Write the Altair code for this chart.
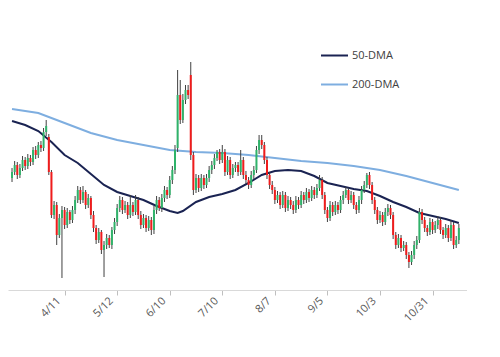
import altair as alt
import pandas as pd

# trading-day index of each candle
days = list(range(171))

opens = [31.2,31.8,32.5,31.5,32.2,33.0,32.4,33.2,32.8,34.0,33.5,34.5,34.2,35.8,35.3,31.8,27.5,28.5,25.5,27.2,
         28.0,26.5,27.8,27.0,28.0,29.0,30.0,29.0,29.8,28.5,29.2,27.5,26.2,25.0,25.8,24.0,24.5,25.2,24.5,26.0,
         26.8,28.2,29.0,28.0,28.5,27.5,28.5,27.8,29.0,27.5,26.5,27.2,26.2,27.0,26.0,28.0,29.0,28.2,29.2,30.0,
         29.5,31.0,32.0,34.2,39.5,37.0,39.0,40.0,41.5,33.5,30.0,31.2,30.2,31.2,30.5,31.2,32.0,32.5,33.2,33.8,
         33.0,33.8,31.8,33.0,31.5,32.2,32.5,31.8,33.0,31.5,31.0,30.5,31.5,32.0,34.0,35.0,34.5,33.0,31.5,30.5,
         30.0,29.0,29.5,28.5,29.5,28.2,29.0,28.5,28.0,29.0,28.5,29.5,29.0,29.8,29.2,30.0,29.5,30.2,31.0,29.5,
         28.0,27.2,28.5,27.8,28.5,28.0,29.0,29.5,30.0,29.0,29.5,28.5,28.0,29.0,30.0,30.5,31.5,30.5,29.0,28.0,
         27.0,27.5,26.8,27.8,28.2,27.5,25.5,24.5,25.2,24.2,24.5,23.5,22.8,23.5,24.5,25.0,27.8,27.0,26.2,25.8,
         26.8,26.0,26.5,27.0,26.0,25.5,26.2,25.2,26.5,24.5,25.0]
highs = [32.2,32.9,32.8,32.6,33.4,33.3,33.6,33.5,34.3,34.4,34.8,34.9,36.2,37.0,35.6,32.0,28.9,28.8,27.6,28.4,
         28.3,28.2,28.0,28.4,29.4,30.4,30.3,30.4,30.0,29.6,29.4,27.9,26.5,26.2,26.0,24.9,25.6,25.5,26.3,27.2,
         28.6,29.4,29.3,28.9,28.8,29.5,28.8,29.5,29.3,27.9,27.6,27.5,27.4,27.3,28.4,29.4,29.3,29.6,30.4,30.3,
         31.4,32.4,34.5,42.0,41.0,39.6,40.5,40.5,42.8,33.8,31.6,31.5,31.6,31.5,31.6,32.4,32.9,33.6,34.0,34.1,
         34.5,34.1,33.4,33.3,32.6,32.8,32.8,34.0,33.3,31.9,31.3,31.9,32.4,34.4,35.5,35.5,34.8,33.3,31.8,30.9,
         30.3,29.9,29.8,29.9,29.8,29.4,29.3,28.9,29.4,29.3,29.9,29.8,30.2,30.1,30.4,30.3,30.6,31.5,31.3,29.8,
         28.3,28.9,28.8,28.9,28.8,29.4,29.9,30.3,30.2,29.9,29.8,28.8,29.4,30.4,30.9,31.7,31.8,30.8,29.3,28.3,
         27.9,27.8,28.2,28.6,28.5,27.8,25.8,25.6,25.5,24.9,24.8,23.8,23.9,24.9,25.4,28.2,28.1,27.3,26.5,27.2,
         27.1,26.9,27.4,27.3,26.3,26.6,26.5,27.0,26.8,25.4,26.6]
lows = [30.8,31.5,31.1,31.2,31.9,32.0,32.1,32.4,32.5,33.1,33.2,33.8,33.9,35.4,31.5,27.2,27.1,24.5,25.2,21.2,
        26.1,26.2,26.6,26.7,27.6,28.7,28.6,28.7,28.1,28.2,27.1,25.8,24.6,24.7,23.6,21.3,24.1,24.2,24.1,25.6,
        26.4,27.8,27.6,27.7,27.1,27.2,27.4,27.5,27.1,26.1,26.2,25.8,25.9,25.5,25.6,27.6,27.9,27.8,28.8,29.1,
        29.2,30.6,31.6,33.8,36.6,36.7,38.6,39.1,33.0,29.5,29.7,29.8,29.9,30.1,30.2,30.8,31.6,32.1,32.9,32.6,
        32.7,31.4,31.5,31.1,31.2,31.8,31.4,31.5,31.1,30.6,30.1,30.2,31.1,31.7,33.6,34.1,32.6,31.1,30.1,29.6,
        28.6,28.7,28.1,28.2,27.8,27.9,28.1,27.6,27.7,28.1,28.2,28.6,28.7,28.8,28.9,29.1,29.2,29.9,29.1,27.6,
        26.8,26.9,27.4,27.5,27.6,27.7,28.6,29.2,28.6,28.7,28.1,27.6,27.7,28.6,29.7,30.2,30.1,28.6,27.6,26.6,
        26.7,26.4,26.5,27.4,27.1,25.1,24.1,24.2,23.8,23.9,23.1,22.2,22.5,23.1,24.1,24.7,26.6,25.8,25.4,25.5,
        25.6,25.7,26.1,25.6,25.1,25.2,24.8,24.9,24.1,24.2,24.6]
closes = [31.8,32.5,31.5,32.2,33.0,32.4,33.2,32.8,34.0,33.5,34.5,34.2,35.8,36.4,31.8,27.5,28.5,25.5,27.2,28.0,
          26.5,27.8,27.0,28.0,29.0,30.0,29.0,29.8,28.5,29.2,27.5,26.2,25.0,25.8,24.0,24.5,25.2,24.5,26.0,26.8,
          28.2,29.0,28.0,28.5,27.5,28.5,27.8,29.0,27.5,26.5,27.2,26.2,27.0,26.0,28.0,29.0,28.2,29.2,30.0,29.5,
          31.0,32.0,34.0,39.5,37.0,39.0,40.0,39.5,33.5,30.0,31.2,30.2,31.2,30.5,31.2,32.0,32.5,33.2,33.8,33.0,
          33.8,31.8,33.0,31.5,32.2,32.5,31.8,33.0,31.5,31.0,30.5,31.5,32.0,34.0,35.0,34.5,33.0,31.5,30.5,30.0,
          29.0,29.5,28.5,29.5,28.2,29.0,28.5,28.0,29.0,28.5,29.5,29.0,29.8,29.2,30.0,29.5,30.2,31.0,29.5,28.0,
          27.2,28.5,27.8,28.5,28.0,29.0,29.5,30.0,29.0,29.5,28.5,28.0,29.0,30.0,30.5,31.5,30.5,29.0,28.0,27.0,
          27.5,26.8,27.8,28.2,27.5,25.5,24.5,25.2,24.2,24.5,23.5,22.8,23.5,24.5,25.0,27.8,27.0,26.2,25.8,26.8,
          26.0,26.5,27.0,26.0,25.5,26.2,25.2,26.5,24.5,25.0,26.2]

ma50_days = [0,5,10,15,20,25,30,35,40,45,50,55,60,63,65,70,75,80,85,90,95,100,105,110,115,120,125,130,135,140,
             145,150,155,160,165,170]
ma50_vals = [36.9,36.5,35.9,34.8,33.5,32.7,31.6,30.5,29.8,29.4,29.0,28.4,27.9,27.7,27.9,28.8,29.3,29.6,30.0,30.7,
             31.5,31.9,32.0,31.9,31.4,30.7,30.4,30.1,29.9,29.4,28.8,28.3,27.7,27.4,27.1,26.7]
ma200_days = [0,10,20,30,40,50,60,70,80,90,100,110,120,130,140,150,160,170]
ma200_vals = [38.1,37.7,36.7,35.7,35.0,34.5,34.0,33.8,33.7,33.5,33.2,32.9,32.7,32.4,32.0,31.4,30.7,30.0]

label_days = [0, 20, 40, 60, 80, 100, 120, 140, 160]
label_text = ["3/14", "4/11", "5/12", "6/10", "7/10", "8/7", "9/5", "10/3", "10/31"]

candles = pd.DataFrame({"day": days, "open": opens, "high": highs, "low": lows, "close": closes})
ma = pd.concat([
    pd.DataFrame({"day": ma50_days, "value": ma50_vals, "series": "50-DMA"}),
    pd.DataFrame({"day": ma200_days, "value": ma200_vals, "series": "200-DMA"}),
])

FONT = "Open Sans"
xscale = alt.Scale(domain=[0.37, 171.2], nice=False, zero=False)
yscale = alt.Scale(domain=[20, 48.2], nice=False, zero=False)
label_expr = "[" + ",".join("'%s'" % t for t in label_text) + "][datum.value / 20]"
xaxis = alt.Axis(values=label_days[1:], labelExpr=label_expr, labelAngle=-45, title=None,
                 labelAlign="right", labelBaseline="middle", labelOffset=-6,
                 grid=False, domainColor="#d9d9d9", tickColor="#bfbfbf", tickSize=5,
                 labelColor="#595959", labelFontSize=11, labelFont=FONT, labelPadding=4)

lines = alt.Chart(ma).mark_line(strokeWidth=2).encode(
    x=alt.X("day:Q", scale=xscale, axis=xaxis),
    y=alt.Y("value:Q", scale=yscale, axis=None),
    color=alt.Color("series:N",
                    scale=alt.Scale(domain=["50-DMA", "200-DMA"], range=["#1a2352", "#7eaee0"]),
                    legend=alt.Legend(orient="none", legendX=312, legendY=33, title=None,
                                      symbolType="stroke", symbolSize=729, symbolStrokeWidth=2,
                                      labelFont=FONT, labelFontSize=11, labelColor="#404040",
                                      rowPadding=9, labelOffset=3)),
)

wicks = alt.Chart(candles).mark_rule(strokeWidth=1, color="#404040").encode(
    x=alt.X("day:Q", scale=xscale, axis=xaxis),
    y=alt.Y("low:Q", scale=yscale, axis=None),
    y2="high:Q",
)

bodies = alt.Chart(candles).mark_bar(size=2).encode(
    x=alt.X("day:Q", scale=xscale, axis=xaxis),
    y=alt.Y("open:Q", scale=yscale, axis=None),
    y2="close:Q",
    color=alt.condition("datum.close >= datum.open", alt.value("#2fb36a"), alt.value("#f01c1c")),
)

chart = alt.layer(lines, wicks, bodies).properties(
    width=459, height=282, padding=0
).configure_view(strokeWidth=0, stroke="transparent").configure_legend(strokeColor="transparent")

chart.save("out.html", embed_options={"renderer": "svg", "actions": False})
